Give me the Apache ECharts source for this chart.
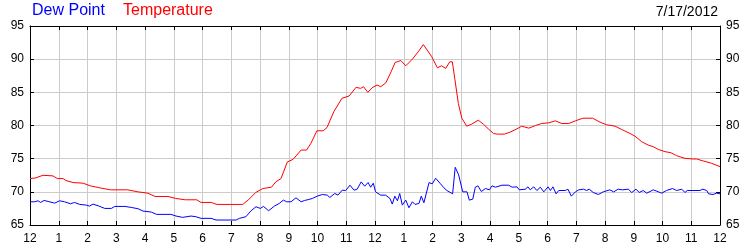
<!DOCTYPE html>
<html>
<head>
<meta charset="utf-8">
<script src="https://cdn.jsdelivr.net/npm/echarts@6/dist/echarts.min.js"></script>
<style>
html,body{margin:0;padding:0;background:#fff;}
#chart{width:750px;height:250px;}
</style>
</head>
<body>
<div id="chart"></div>
<script>
var hourLabels = ['12','1','2','3','4','5','6','7','8','9','10','11','12','1','2','3','4','5','6','7','8','9','10','11','12'];
var dateLabel = '7/17/2012';
var seriesNames = ['Dew Point', 'Temperature'];

var tempHours = [0,0.2,0.45,0.8,0.95,1.15,1.25,1.5,1.85,2.1,2.43,2.8,3.4,3.75,4.1,4.35,4.8,5.07,5.4,5.8,5.95,6.3,6.5,7.4,7.6,7.85,8.1,8.4,8.55,8.73,8.95,9.15,9.43,9.62,9.77,9.98,10.2,10.33,10.57,10.85,11.1,11.34,11.5,11.6,11.75,11.9,12.07,12.2,12.38,12.56,12.7,12.9,13.07,13.3,13.5,13.68,13.97,14.17,14.32,14.46,14.6,14.69,14.78,14.9,15.02,15.19,15.36,15.59,15.77,15.94,16.12,16.25,16.5,16.7,16.94,17.1,17.35,17.58,17.8,18.04,18.27,18.5,18.74,18.97,19.23,19.57,19.83,20.06,20.35,20.58,20.87,21.04,21.28,21.5,21.68,21.85,22.09,22.29,22.49,22.78,23.06,23.19,23.42,23.71,24];
var tempValues = [72.0,72.1,72.5,72.4,72.0,72.0,71.7,71.4,71.3,70.9,70.6,70.3,70.3,70.0,69.8,69.3,69.3,69.0,68.8,68.8,68.4,68.4,68.1,68.1,68.8,69.9,70.5,70.7,71.5,72.0,74.5,74.9,76.3,76.3,77.3,79.2,79.2,79.7,82.1,84.1,84.45,85.75,85.6,85.85,85.0,85.7,86.1,85.85,86.45,88.1,89.5,89.8,89.0,90.0,91.1,92.2,90.4,88.7,89.0,88.6,89.6,89.6,86.9,83.3,81.1,79.9,80.2,80.8,80.2,79.5,78.8,78.7,78.7,79.0,79.5,79.9,79.6,80.0,80.3,80.4,80.7,80.3,80.3,80.7,81.1,81.1,80.5,80.1,79.9,79.4,78.8,78.4,77.55,77.05,76.8,76.4,76.05,75.9,75.45,75.05,74.95,74.95,74.65,74.3,73.8];

var dewHours = [0,0.16,0.28,0.37,0.49,0.63,0.86,1.03,1.2,1.41,1.55,1.73,1.96,2.07,2.19,2.37,2.6,2.83,2.95,3.3,3.52,3.76,3.93,4.22,4.4,4.9,5.08,5.31,5.6,5.77,5.95,6.3,6.47,7.17,7.28,7.51,7.69,7.86,8.01,8.12,8.3,8.5,8.67,8.81,8.93,9.08,9.25,9.43,9.55,9.7,9.82,9.99,10.17,10.34,10.43,10.6,10.71,10.86,10.98,11.13,11.27,11.38,11.52,11.64,11.76,11.85,11.94,12.02,12.2,12.37,12.52,12.6,12.69,12.78,12.86,12.95,13.07,13.18,13.3,13.39,13.53,13.61,13.7,13.88,13.99,14.11,14.26,14.4,14.5,14.7,14.79,14.91,15.05,15.2,15.28,15.4,15.49,15.58,15.7,15.84,15.98,16.07,16.19,16.42,16.65,16.77,16.94,17.02,17.23,17.32,17.4,17.52,17.63,17.75,17.87,18.02,18.1,18.19,18.3,18.39,18.62,18.71,18.83,18.97,19.09,19.25,19.36,19.45,19.59,19.77,19.94,20.17,20.3,20.46,20.6,20.81,20.93,21.08,21.19,21.33,21.45,21.68,21.86,21.97,22.14,22.35,22.49,22.67,22.78,22.86,23.3,23.4,23.54,23.6,23.76,23.88,24];
var dewValues = [68.5,68.5,68.65,68.4,68.7,68.55,68.3,68.65,68.5,68.2,68.4,68.1,68.0,67.85,68.15,67.9,67.5,67.5,67.8,67.8,67.65,67.45,67.1,66.95,66.6,66.6,66.35,66.15,66.35,66.25,66.0,66.0,65.75,65.75,66.0,66.25,67.15,67.75,67.5,67.8,67.15,67.85,68.25,68.75,68.5,68.5,69.1,68.5,68.7,68.85,69.0,69.35,69.6,69.5,69.15,69.75,69.5,70.25,70.2,71.0,70.25,70.4,71.5,70.85,71.4,70.7,71.3,70.0,69.5,69.5,69.0,68.15,69.35,68.65,69.75,68.0,68.75,67.6,68.5,68.1,68.25,69.35,68.35,71.4,71.2,72.05,71.3,70.6,70.2,69.7,73.7,72.55,70.0,70.0,68.75,68.9,70.7,70.9,70.05,70.5,70.3,70.9,70.7,71.0,71.0,70.7,70.75,70.3,70.4,70.75,70.3,70.75,70.2,70.7,70.0,70.75,70.2,70.75,69.7,70.2,70.2,70.4,69.35,70.0,70.3,70.4,70.2,70.4,69.9,69.6,70.0,70.3,70.0,70.4,70.3,70.4,69.9,70.4,69.9,70.2,69.8,70.3,70.0,69.8,70.2,70.5,70.2,70.4,69.9,70.2,70.2,70.4,70.2,69.7,69.6,69.8,69.7];

function zip(xs, ys){ return xs.map(function(x,i){ return [x, ys[i]]; }); }

var chart = echarts.init(document.getElementById('chart'), null, {renderer:'canvas'});
var font = 'Arial, "Liberation Sans", sans-serif';
var gridLine = {show:true, lineStyle:{color:'#cccccc', width:1}};
var axisLine = {show:true, onZero:false, lineStyle:{color:'#000', width:1}};
var ticksIn = {show:true, inside:true, length:4, lineStyle:{color:'#000'}};

chart.setOption({
  animation:false,
  backgroundColor:'#fff',
  textStyle:{fontFamily:font},
  grid:{left:30, right:30, top:26, bottom:25, containLabel:false},
  graphic:[{
    type:'text', left:32, top:3,
    style:{text:seriesNames[0], fill:'#0000ff', font:'16px ' + font}
  },{
    type:'text', left:123, top:3,
    style:{text:seriesNames[1], fill:'#ff0000', font:'16px ' + font}
  },{
    type:'text', right:32, top:5,
    style:{text:dateLabel, fill:'#000', font:'14px ' + font}
  }],
  xAxis:[{
    type:'value', min:0, max:24, interval:1, position:'bottom',
    axisLine:axisLine, axisTick:ticksIn, splitLine:gridLine,
    axisLabel:{color:'#000', fontSize:12, margin:8, fontFamily:font,
      formatter:function(v){ return hourLabels[Math.round(v)]; }}
  },{
    type:'value', min:0, max:24, interval:1, position:'top',
    axisLine:axisLine, axisTick:ticksIn, splitLine:{show:false},
    axisLabel:{show:false}
  }],
  yAxis:[{
    type:'value', min:65, max:95, interval:5, position:'left',
    axisLine:axisLine, axisTick:ticksIn, splitLine:gridLine,
    axisLabel:{color:'#000', fontSize:12, margin:6, fontFamily:font}
  },{
    type:'value', min:65, max:95, interval:5, position:'right',
    axisLine:axisLine, axisTick:ticksIn, splitLine:{show:false},
    axisLabel:{color:'#000', fontSize:12, margin:6, fontFamily:font}
  }],
  series:[{
    name:seriesNames[0], type:'line', showSymbol:false, symbol:'none',
    data:zip(dewHours, dewValues),
    lineStyle:{color:'#0000ff', width:1}, itemStyle:{color:'#0000ff'}
  },{
    name:seriesNames[1], type:'line', showSymbol:false, symbol:'none',
    data:zip(tempHours, tempValues),
    lineStyle:{color:'#ff0000', width:1}, itemStyle:{color:'#ff0000'}
  }]
});
</script>
</body>
</html>
